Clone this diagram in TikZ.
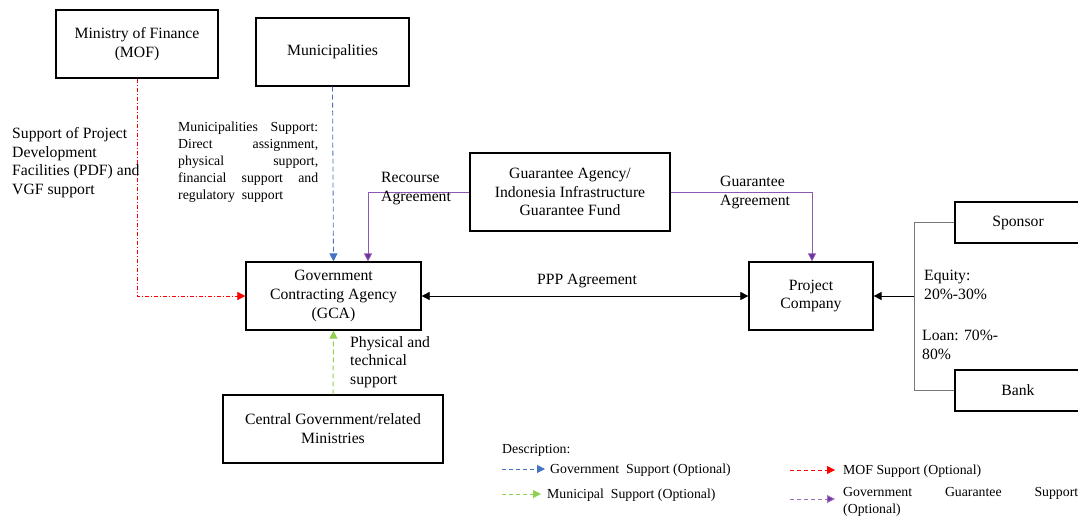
\documentclass[tikz,border=0pt]{standalone}
\usepackage{fontspec}
\setmainfont{Liberation Serif}
\usetikzlibrary{arrows.meta}
\definecolor{cblue}{RGB}{68,114,196}
\definecolor{cred}{RGB}{255,0,0}
\definecolor{cgreen}{RGB}{146,208,80}
\definecolor{cpurple}{RGB}{112,48,160}
\definecolor{cgray}{RGB}{120,120,120}
\newcommand{\jline}[2]{\hbox to #1pt{#2}}
\tikzset{
  box/.style={draw=black, line width=1.2pt, align=center, inner sep=2pt,
    font=\fontsize{15.7}{18.8}\selectfont},
  lbl/.style={align=left, inner sep=0pt, anchor=north west,
    font=\fontsize{15.7}{18.8}\selectfont},
  small/.style={inner sep=0pt, anchor=north west, align=left, font=\fontsize{13.8}{17}\selectfont},
  tip/.style={-{Triangle[length=8pt,width=8pt]}},
  redline/.style={cred, line width=0.6pt, dash pattern=on 4pt off 2pt on 1pt off 2pt, tip},
  blueline/.style={cblue, line width=0.8pt, dash pattern=on 5pt off 3pt, tip},
  greenline/.style={cgreen, line width=1pt, dash pattern=on 5pt off 3pt, tip},
  purpleline/.style={cpurple!80, line width=0.8pt, -{Triangle[length=8pt,width=8pt,fill=cpurple]}},
  purpledash/.style={cpurple!70, line width=0.8pt, dash pattern=on 5pt off 3pt, -{Triangle[length=8pt,width=8pt,fill=cpurple]}},
}
\begin{document}
\begin{tikzpicture}[x=1pt,y=-1pt]
\useasboundingbox (0,0) rectangle (1078,516);

% boxes
\node[box, minimum width=162, minimum height=68] (mof) at (137,44) {Ministry of Finance\\(MOF)};
\node[box, minimum width=153, minimum height=68] (mun) at (332.5,52) {Municipalities};
\node[box, minimum width=200, minimum height=78] (gua) at (570,192) {Guarantee Agency/\\Indonesia Infrastructure\\Guarantee Fund};
\node[box, minimum width=175, minimum height=68] (gca) at (333.5,296) {Government\\Contracting Agency\\(GCA)};
\node[box, minimum width=124, minimum height=68] (pc) at (811,296) {Project\\Company};
\node[box, minimum width=220, minimum height=68] (cen) at (333,429) {Central Government/related\\Ministries};
\node[box, minimum width=126, minimum height=41] (spo) at (1018,222.5) {Sponsor};
\node[box, minimum width=126, minimum height=41] (bank) at (1018,390.5) {Bank};

% coordinates
\coordinate (mofc) at (137,296);
\coordinate (gl) at (368,192);
\coordinate (gr) at (812,192);
\coordinate (jn) at (914,296);

% connectors
\draw[redline] (mof.south) -- (mofc) -- (gca.west);
\draw[blueline] (mun.south) -- (gca.north);
\draw[purpleline] (gua.west) -- (gl) -- (gl |- gca.north);
\draw[purpleline] (gua.east) -- (gr) -- (gr |- pc.north);
\draw[{Triangle[length=8pt,width=8pt]}-{Triangle[length=8pt,width=8pt]}, line width=0.6pt] (gca.east) -- (pc.west);
\draw[cgray, line width=0.8pt] (spo.west) -| (jn) |- (bank.west);
\draw[tip, line width=1pt] (jn) -- (pc.east);
\draw[greenline] (cen.north) -- (gca.south);

% labels
\node[lbl] (l1) at (12,127) {Support of Project\\Development\\Facilities (PDF) and\\VGF support};
\node[small] (l2) at (178,122) {\jline{140}{Municipalities\hfill Support:}\\\jline{140}{Direct\hfill assignment,}\\\jline{140}{physical\hfill support,}\\\jline{140}{financial\hfill support\hfill and}\\regulatory\ \ support};
\node[lbl] (l3) at (381,172) {Recourse\\Agreement};
\node[lbl] (l4) at (720,176) {Guarantee\\Agreement};
\node[lbl, anchor=center] (l5) at (587,281) {PPP Agreement};
\node[lbl] (l6) at (350,336) {Physical and\\technical\\support};
\node[lbl] (l7) at (924,270) {Equity:\\20\%-30\%};
\node[lbl] (l8) at (922,330) {Loan: 70\%-\\80\%};

% legend
\node[small] (desc) at (502,444) {Description:};
\coordinate (a1) at (502,469); \coordinate (b1) at (545,469);
\draw[blueline, line width=1pt, dash pattern=on 4pt off 3pt] (a1) -- (b1);
\node[small, anchor=west] (t1) at (550,470) {Government\ \ Support (Optional)};
\coordinate (a2) at (502,494); \coordinate (b2) at (541,494);
\draw[greenline, line width=1pt, dash pattern=on 4pt off 3pt] (a2) -- (b2);
\node[small, anchor=west] (t2) at (547,495) {Municipal\ \ Support (Optional)};
\coordinate (a3) at (790,470); \coordinate (b3) at (835,470);
\draw[redline, line width=0.8pt, dash pattern=on 4pt off 3pt] (a3) -- (b3);
\node[small, anchor=west] (t3) at (843,471) {MOF Support (Optional)};
\coordinate (a4) at (790,499); \coordinate (b4) at (835,499);
\draw[purpledash, line width=1pt, dash pattern=on 4pt off 3pt] (a4) -- (b4);
\node[small] (t4) at (843,487) {\jline{235}{Government\hfill Guarantee\hfill Support}\\(Optional)};
\end{tikzpicture}
\end{document}
